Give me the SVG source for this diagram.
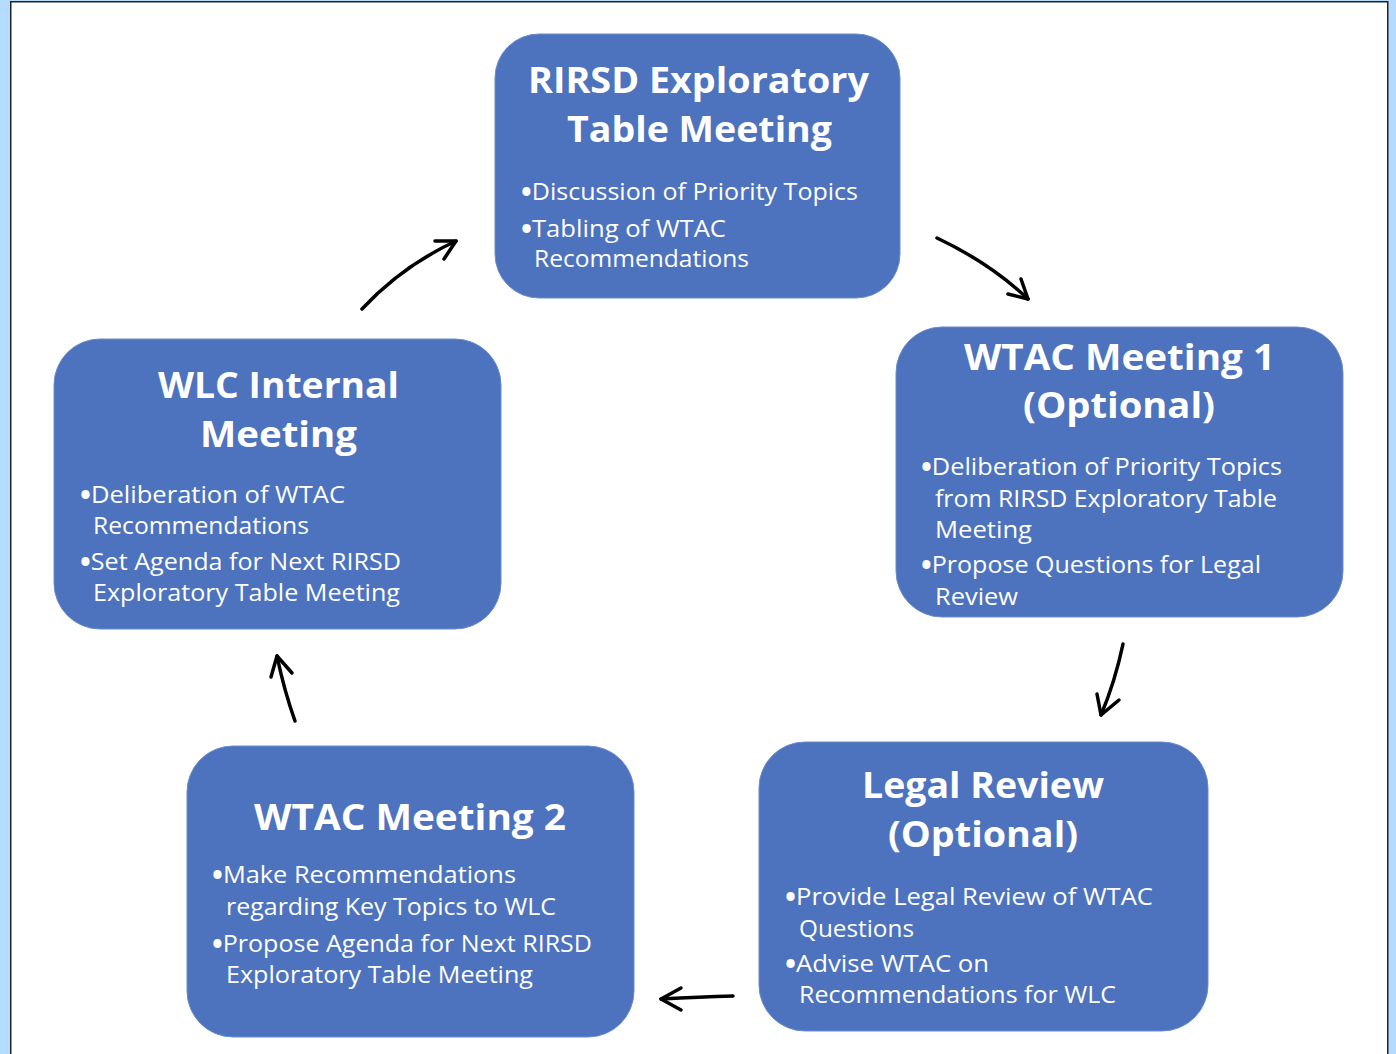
<svg xmlns="http://www.w3.org/2000/svg" width="1396" height="1054" viewBox="0 0 1396 1054">
<style>
.box{fill:#4d72be;stroke:#6a8ccc;stroke-width:1}
.t{font-family:"Open Sans","Noto Sans",sans-serif;font-weight:700;font-size:36.5px;fill:#fff}
.b{font-family:"Open Sans","Noto Sans",sans-serif;font-weight:400;font-size:24.5px;fill:#fff}
.d{font-size:28px;font-weight:700}
.arr{fill:none;stroke:#000;stroke-width:3.5;stroke-linecap:round;stroke-linejoin:round}
</style>
<rect x="0" y="0" width="1396" height="1054" fill="#b5dcff"/>
<rect x="10.75" y="1.75" width="1377" height="1060" fill="#fff" stroke="#222" stroke-width="1.5"/>
<g id="node-rirsd">
<rect class="box" x="495" y="34" width="405" height="264" rx="44"/>
<text class="t" x="528" y="93" textLength="341" lengthAdjust="spacingAndGlyphs">RIRSD Exploratory</text>
<text class="t" x="567" y="142" textLength="265" lengthAdjust="spacingAndGlyphs">Table Meeting</text>
<text class="b" x="521" y="200" textLength="337" lengthAdjust="spacingAndGlyphs"><tspan class="d" dy="2">•</tspan><tspan dy="-2">Discussion of Priority Topics</tspan></text>
<text class="b" x="521" y="237" textLength="205" lengthAdjust="spacingAndGlyphs"><tspan class="d" dy="2">•</tspan><tspan dy="-2">Tabling of WTAC</tspan></text>
<text class="b" x="534" y="267" textLength="215" lengthAdjust="spacingAndGlyphs">Recommendations</text>
</g>
<g id="node-wtac1">
<rect class="box" x="896" y="327" width="447" height="290" rx="46"/>
<text class="t" x="964" y="370" textLength="311" lengthAdjust="spacingAndGlyphs">WTAC Meeting 1</text>
<text class="t" x="1023" y="418" textLength="192" lengthAdjust="spacingAndGlyphs">(Optional)</text>
<text class="b" x="921" y="475" textLength="361" lengthAdjust="spacingAndGlyphs"><tspan class="d" dy="2">•</tspan><tspan dy="-2">Deliberation of Priority Topics</tspan></text>
<text class="b" x="935" y="507" textLength="342" lengthAdjust="spacingAndGlyphs">from RIRSD Exploratory Table</text>
<text class="b" x="935" y="538" textLength="97" lengthAdjust="spacingAndGlyphs">Meeting</text>
<text class="b" x="921" y="573" textLength="340" lengthAdjust="spacingAndGlyphs"><tspan class="d" dy="2">•</tspan><tspan dy="-2">Propose Questions for Legal</tspan></text>
<text class="b" x="935" y="605" textLength="83" lengthAdjust="spacingAndGlyphs">Review</text>
</g>
<g id="node-legal">
<rect class="box" x="759" y="742" width="449" height="289" rx="46"/>
<text class="t" x="862" y="798" textLength="242" lengthAdjust="spacingAndGlyphs">Legal Review</text>
<text class="t" x="888" y="847" textLength="190" lengthAdjust="spacingAndGlyphs">(Optional)</text>
<text class="b" x="785" y="905" textLength="368" lengthAdjust="spacingAndGlyphs"><tspan class="d" dy="2">•</tspan><tspan dy="-2">Provide Legal Review of WTAC</tspan></text>
<text class="b" x="799" y="937" textLength="115" lengthAdjust="spacingAndGlyphs">Questions</text>
<text class="b" x="785" y="972" textLength="204" lengthAdjust="spacingAndGlyphs"><tspan class="d" dy="2">•</tspan><tspan dy="-2">Advise WTAC on</tspan></text>
<text class="b" x="799" y="1003" textLength="317" lengthAdjust="spacingAndGlyphs">Recommendations for WLC</text>
</g>
<g id="node-wtac2">
<rect class="box" x="187" y="746" width="447" height="291" rx="46"/>
<text class="t" x="254" y="830" textLength="312" lengthAdjust="spacingAndGlyphs">WTAC Meeting 2</text>
<text class="b" x="212" y="883" textLength="304" lengthAdjust="spacingAndGlyphs"><tspan class="d" dy="2">•</tspan><tspan dy="-2">Make Recommendations</tspan></text>
<text class="b" x="226" y="915" textLength="330" lengthAdjust="spacingAndGlyphs">regarding Key Topics to WLC</text>
<text class="b" x="212" y="952" textLength="380" lengthAdjust="spacingAndGlyphs"><tspan class="d" dy="2">•</tspan><tspan dy="-2">Propose Agenda for Next RIRSD</tspan></text>
<text class="b" x="226" y="983" textLength="307" lengthAdjust="spacingAndGlyphs">Exploratory Table Meeting</text>
</g>
<g id="node-wlc">
<rect class="box" x="54" y="339" width="447" height="290" rx="46"/>
<text class="t" x="158" y="398" textLength="241" lengthAdjust="spacingAndGlyphs">WLC Internal</text>
<text class="t" x="200" y="447" textLength="157" lengthAdjust="spacingAndGlyphs">Meeting</text>
<text class="b" x="80" y="503" textLength="265" lengthAdjust="spacingAndGlyphs"><tspan class="d" dy="2">•</tspan><tspan dy="-2">Deliberation of WTAC</tspan></text>
<text class="b" x="93" y="534" textLength="216" lengthAdjust="spacingAndGlyphs">Recommendations</text>
<text class="b" x="80" y="570" textLength="321" lengthAdjust="spacingAndGlyphs"><tspan class="d" dy="2">•</tspan><tspan dy="-2">Set Agenda for Next RIRSD</tspan></text>
<text class="b" x="93" y="601" textLength="307" lengthAdjust="spacingAndGlyphs">Exploratory Table Meeting</text>
</g>
<g id="connectors">
<path class="arr" d="M362 309 Q402 266 456 241"/>
<path class="arr" d="M435 241 L456 241 L444 259"/>
<path class="arr" d="M937 238 Q990 263 1028 299"/>
<path class="arr" d="M1008 294 L1028 299 L1021 279"/>
<path class="arr" d="M1123 644 Q1115 682 1101 715"/>
<path class="arr" d="M1097 694 L1101 715 L1119 700"/>
<path class="arr" d="M733 996 Q700 997 661 999"/>
<path class="arr" d="M681 988 L661 999 L681 1010"/>
<path class="arr" d="M295 721 Q284 690 277 656"/>
<path class="arr" d="M271 677 L277 656 L292 673"/>
</g>
</svg>
